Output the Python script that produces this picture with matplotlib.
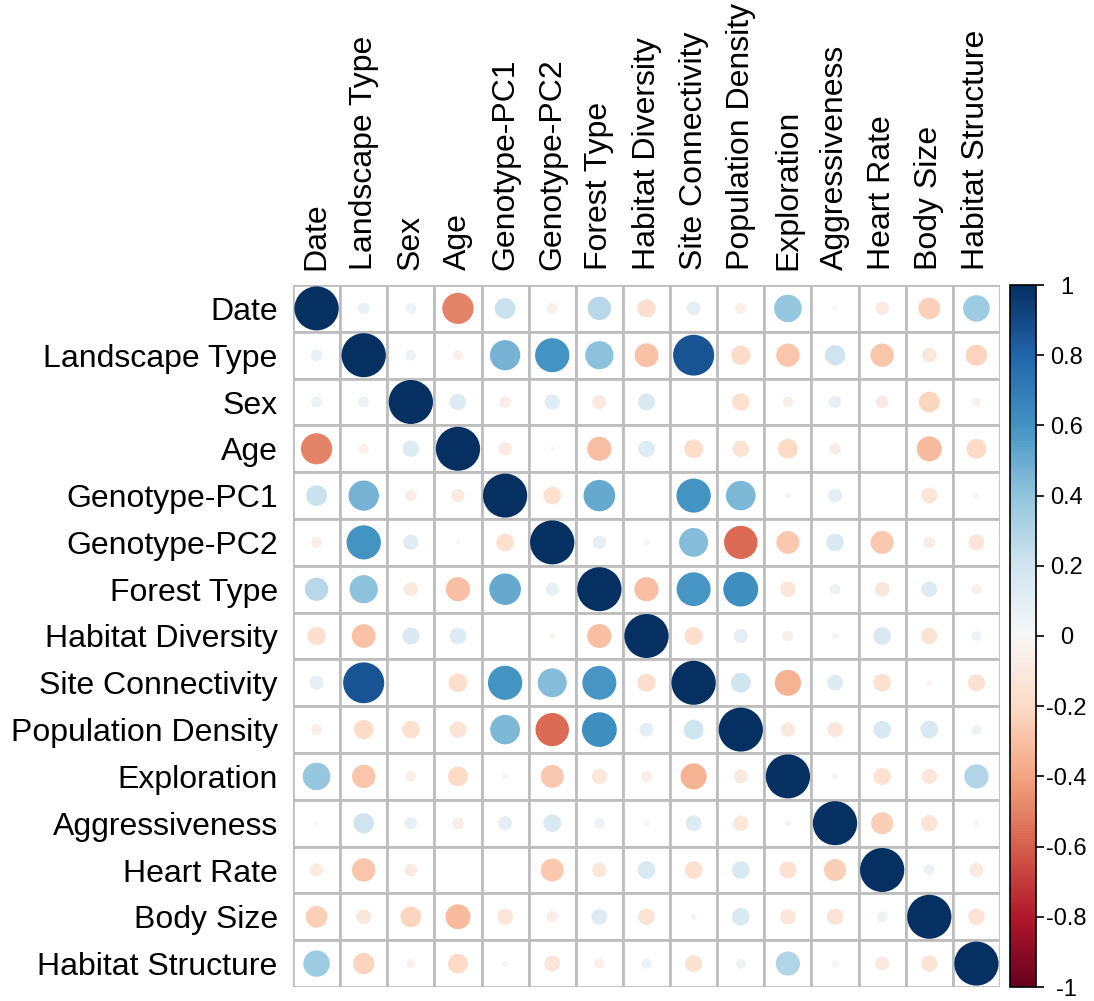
import numpy as np
import matplotlib
matplotlib.use("Agg")
import matplotlib.pyplot as plt
from matplotlib.patches import Circle, Rectangle

plt.rcParams['font.family'] = ['Liberation Sans', 'DejaVu Sans']

labels = ["Date", "Landscape Type", "Sex", "Age", "Genotype-PC1", "Genotype-PC2",
          "Forest Type", "Habitat Diversity", "Site Connectivity", "Population Density",
          "Exploration", "Aggressiveness", "Heart Rate", "Body Size", "Habitat Structure"]

# upper triangle of the correlation matrix, row by row (values right of the diagonal)
upper = [
    [0.07, 0.06, -0.50, 0.22, -0.06, 0.28, -0.17, 0.10, -0.06, 0.39, 0.01, -0.09, -0.24, 0.36],
    [0.06, -0.05, 0.47, 0.60, 0.41, -0.29, 0.86, -0.19, -0.28, 0.21, -0.28, -0.11, -0.23],
    [0.14, -0.07, 0.12, -0.10, 0.15, 0.00, -0.16, -0.06, 0.08, -0.08, -0.22, -0.04],
    [-0.09, 0.01, -0.30, 0.14, -0.18, -0.14, -0.20, -0.07, 0.00, -0.32, -0.20],
    [-0.16, 0.51, 0.00, 0.60, 0.45, 0.02, 0.10, 0.00, -0.13, 0.02],
    [0.09, -0.02, 0.43, -0.57, -0.27, 0.16, -0.27, -0.07, -0.13],
    [-0.30, 0.59, 0.62, -0.12, 0.06, -0.11, 0.13, -0.05],
    [-0.17, 0.10, -0.06, 0.02, 0.16, -0.14, 0.05],
    [0.20, -0.35, 0.13, -0.16, -0.02, -0.15],
    [-0.10, -0.12, 0.16, 0.16, 0.05],
    [-0.02, -0.15, -0.12, 0.30],
    [-0.25, -0.14, -0.02],
    [0.06, -0.10],
    [-0.14],
]
cbar_ticks = [-1, -0.8, -0.6, -0.4, -0.2, 0, 0.2, 0.4, 0.6, 0.8, 1]
cbar_labels = ["-1", "-0.8", "-0.6", "-0.4", "-0.2", "0", "0.2", "0.4", "0.6", "0.8", "1"]

n = len(labels)
corr = np.eye(n)
for i, row in enumerate(upper):
    for k, v in enumerate(row):
        corr[i, i + 1 + k] = v
        corr[i + 1 + k, i] = v

cmap = plt.get_cmap("RdBu")
norm = matplotlib.colors.Normalize(vmin=-1, vmax=1)

fig = plt.figure(figsize=(10.94, 10.01), dpi=100)
ax = fig.add_axes([293 / 1094, 14 / 1001, 707 / 1094, 702 / 1001])

for i in range(n):
    for j in range(n):
        ax.add_patch(Rectangle((j, i), 1, 1, facecolor="white", edgecolor="#BEBEBE", lw=2))
        r = corr[i, j]
        # circle area proportional to |r|
        ax.add_patch(Circle((j + 0.5, i + 0.5), 0.47 * np.sqrt(abs(r)),
                            facecolor=cmap(norm(r)), edgecolor="none"))

ax.set_xlim(0, n)
ax.set_ylim(n, 0)
ax.set_xticks(np.arange(n) + 0.5)
ax.set_yticks(np.arange(n) + 0.5)
ax.set_xticklabels(labels, rotation=90, fontsize=23)
ax.set_yticklabels(labels, fontsize=23)
ax.xaxis.tick_top()
ax.tick_params(length=0, pad=11)
for s in ax.spines.values():
    s.set_visible(False)

# colour legend on the right
cax = fig.add_axes([1010 / 1094, 14 / 1001, 26 / 1094, 702 / 1001])
sm = matplotlib.cm.ScalarMappable(norm=norm, cmap=cmap)
cb = fig.colorbar(sm, cax=cax, ticks=cbar_ticks)
cb.ax.set_yticklabels(cbar_labels, ha="center")
cb.ax.tick_params(labelsize=17, length=6, width=1.2, pad=16)
cb.outline.set_linewidth(1.2)

fig.savefig("out.png", dpi=100)
